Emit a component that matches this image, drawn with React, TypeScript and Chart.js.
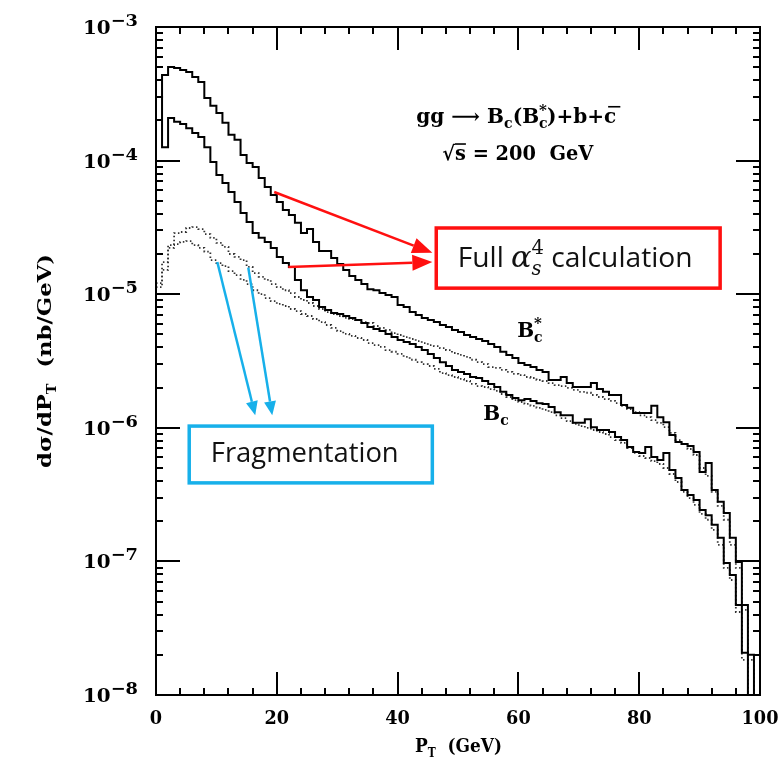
import { useEffect, useRef } from 'react';
import { Chart, registerables } from 'chart.js';

Chart.register(...registerables);

// ---- data: dσ/dP_T (nb/GeV) in 1 GeV P_T bins, bin i covers [i, i+1) GeV ----
const PT_START = 0;
const BIN_WIDTH = 1;

// full alpha_s^4 calculation, B_c*
const bcStarFull = [
  2.99e-4, 4.37e-4, 5.02e-4, 4.93e-4, 4.77e-4, 4.61e-4, 4.22e-4, 3.88e-4, 2.94e-4, 2.57e-4,
  2.27e-4, 1.92e-4, 1.56e-4, 1.43e-4, 1.10e-4, 9.60e-5, 8.96e-5, 7.41e-5, 6.34e-5, 5.53e-5,
  4.90e-5, 4.27e-5, 3.92e-5, 3.42e-5, 2.87e-5, 3.07e-5, 2.46e-5, 2.11e-5, 2.11e-5, 1.87e-5,
  1.68e-5, 1.52e-5, 1.37e-5, 1.28e-5, 1.19e-5, 1.09e-5, 1.07e-5, 1.02e-5, 9.86e-6, 9.53e-6,
  8.30e-6, 8.02e-6, 7.35e-6, 6.99e-6, 6.64e-6, 6.41e-6, 6.19e-6, 5.88e-6, 5.68e-6, 5.40e-6,
  5.21e-6, 4.95e-6, 4.78e-6, 4.62e-6, 4.46e-6, 4.24e-6, 4.03e-6, 3.71e-6, 3.51e-6, 3.33e-6,
  3.05e-6, 2.95e-6, 2.85e-6, 2.71e-6, 2.62e-6, 2.28e-6, 2.28e-6, 2.40e-6, 2.16e-6, 2.02e-6,
  2.02e-6, 2.02e-6, 2.16e-6, 1.95e-6, 1.86e-6, 1.76e-6, 1.76e-6, 1.48e-6, 1.41e-6, 1.29e-6,
  1.29e-6, 1.29e-6, 1.46e-6, 1.20e-6, 1.10e-6, 8.83e-7, 7.83e-7, 7.56e-7, 7.31e-7, 6.59e-7,
  4.67e-7, 5.45e-7, 3.43e-7, 2.79e-7, 2.30e-7, 1.50e-7, 9.90e-8, 4.71e-8, 2.00e-8, 0,
];

// full alpha_s^4 calculation, B_c
const bcFull = [
  2.99e-4, 1.26e-4, 2.08e-4, 1.95e-4, 1.88e-4, 1.75e-4, 1.61e-4, 1.50e-4, 1.26e-4, 9.76e-5,
  7.80e-5, 6.80e-5, 5.82e-5, 4.90e-5, 4.05e-5, 3.47e-5, 2.87e-5, 2.64e-5, 2.46e-5, 2.22e-5,
  1.90e-5, 1.71e-5, 1.60e-5, 1.28e-5, 1.07e-5, 9.53e-6, 9.05e-6, 8.02e-6, 7.62e-6, 7.23e-6,
  7.11e-6, 6.87e-6, 6.64e-6, 6.41e-6, 6.09e-6, 5.68e-6, 5.49e-6, 5.30e-6, 5.04e-6, 4.78e-6,
  4.54e-6, 4.38e-6, 4.24e-6, 4.03e-6, 3.82e-6, 3.57e-6, 3.33e-6, 3.10e-6, 2.90e-6, 2.71e-6,
  2.62e-6, 2.53e-6, 2.40e-6, 2.36e-6, 2.24e-6, 2.13e-6, 2.02e-6, 1.86e-6, 1.76e-6, 1.67e-6,
  1.61e-6, 1.64e-6, 1.59e-6, 1.53e-6, 1.51e-6, 1.43e-6, 1.31e-6, 1.24e-6, 1.24e-6, 1.09e-6,
  1.09e-6, 1.16e-6, 1.01e-6, 9.63e-7, 9.63e-7, 9.30e-7, 8.53e-7, 8.10e-7, 7.18e-7, 6.59e-7,
  6.48e-7, 7.18e-7, 6.04e-7, 5.74e-7, 6.48e-7, 4.83e-7, 4.21e-7, 3.43e-7, 3.14e-7, 2.88e-7,
  2.42e-7, 2.22e-7, 1.88e-7, 1.50e-7, 9.73e-8, 7.91e-8, 4.71e-8, 2.07e-8, 0, 0,
];

// fragmentation approximation, B_c*
const bcStarFrag = [
  1.13e-5, 1.52e-5, 2.33e-5, 2.87e-5, 2.92e-5, 3.13e-5, 3.18e-5, 3.07e-5, 2.82e-5, 2.64e-5,
  2.42e-5, 2.26e-5, 2.00e-5, 1.90e-5, 1.80e-5, 1.60e-5, 1.44e-5, 1.35e-5, 1.28e-5, 1.19e-5,
  1.13e-5, 1.07e-5, 1.02e-5, 9.53e-6, 9.05e-6, 8.59e-6, 8.16e-6, 7.75e-6, 7.35e-6, 7.11e-6,
  6.87e-6, 6.64e-6, 6.52e-6, 6.41e-6, 6.19e-6, 6.09e-6, 5.78e-6, 5.59e-6, 5.40e-6, 5.12e-6,
  4.95e-6, 4.78e-6, 4.62e-6, 4.46e-6, 4.31e-6, 4.16e-6, 4.09e-6, 3.95e-6, 3.82e-6, 3.63e-6,
  3.51e-6, 3.40e-6, 3.23e-6, 3.10e-6, 3.00e-6, 2.85e-6, 2.81e-6, 2.71e-6, 2.62e-6, 2.53e-6,
  2.48e-6, 2.40e-6, 2.36e-6, 2.28e-6, 2.24e-6, 2.16e-6, 2.09e-6, 2.05e-6, 1.99e-6, 1.92e-6,
  1.86e-6, 1.83e-6, 1.76e-6, 1.70e-6, 1.64e-6, 1.59e-6, 1.53e-6, 1.46e-6, 1.38e-6, 1.31e-6,
  1.24e-6, 1.20e-6, 1.14e-6, 1.09e-6, 1.01e-6, 9.15e-7, 8.10e-7, 7.56e-7, 6.94e-7, 6.26e-7,
  5.00e-7, 4.36e-7, 3.31e-7, 2.60e-7, 2.05e-7, 1.33e-7, 8.93e-8, 4.33e-8, 1.83e-8, 0,
];

// fragmentation approximation, B_c
const bcFrag = [
  1.21e-5, 1.74e-5, 2.22e-5, 2.37e-5, 2.46e-5, 2.50e-5, 2.33e-5, 2.22e-5, 2.08e-5, 1.80e-5,
  1.71e-5, 1.62e-5, 1.49e-5, 1.39e-5, 1.28e-5, 1.19e-5, 1.07e-5, 1.00e-5, 9.36e-6, 8.89e-6,
  8.45e-6, 8.16e-6, 7.75e-6, 7.48e-6, 7.11e-6, 6.87e-6, 6.52e-6, 6.19e-6, 5.88e-6, 5.59e-6,
  5.30e-6, 5.04e-6, 4.87e-6, 4.70e-6, 4.54e-6, 4.31e-6, 4.16e-6, 4.03e-6, 3.82e-6, 3.71e-6,
  3.57e-6, 3.40e-6, 3.23e-6, 3.10e-6, 3.00e-6, 2.90e-6, 2.76e-6, 2.57e-6, 2.48e-6, 2.40e-6,
  2.32e-6, 2.24e-6, 2.13e-6, 2.05e-6, 2.02e-6, 1.95e-6, 1.89e-6, 1.79e-6, 1.70e-6, 1.61e-6,
  1.56e-6, 1.51e-6, 1.46e-6, 1.41e-6, 1.36e-6, 1.31e-6, 1.24e-6, 1.18e-6, 1.12e-6, 1.07e-6,
  1.03e-6, 9.97e-7, 9.63e-7, 9.30e-7, 8.99e-7, 8.53e-7, 8.10e-7, 7.70e-7, 7.06e-7, 6.48e-7,
  6.15e-7, 5.94e-7, 5.64e-7, 5.36e-7, 5.00e-7, 4.51e-7, 3.93e-7, 3.31e-7, 2.98e-7, 2.65e-7,
  2.27e-7, 2.05e-7, 1.72e-7, 1.33e-7, 8.93e-8, 7.26e-8, 4.18e-8, 1.83e-8, 0, 0,
];

// ---- axes ----
const X_MIN = 0;
const X_MAX = 100;
const X_MINOR_STEP = 4;
const X_MAJOR_STEP = 20;
const xTickLabels = [0, 20, 40, 60, 80, 100];
const Y_MIN = 1e-8;
const Y_MAX = 1e-3;
const yTickExponents = [-3, -4, -5, -6, -7, -8];

// ---- styling ----
const SERIF = '"DejaVu Serif", serif';
const SANS = '"Open Sans", "Noto Sans", sans-serif';
const RED = '#ff1010';
const BLUE = '#17b0ea';

type Run = {
  t: string;
  size: number;
  dy?: number;
  weight?: string;
  fam?: string;
  adv?: boolean;
  bar?: number; // overline height above baseline, in em
  barShift?: number;
};

function setFont(ctx: CanvasRenderingContext2D, r: Run, k: number) {
  ctx.font = `${r.weight ?? 'bold'} ${r.size * k}px ${r.fam ?? SERIF}`;
}

function runsWidth(ctx: CanvasRenderingContext2D, runs: Run[], k = 1) {
  let w = 0;
  for (const r of runs) {
    setFont(ctx, r, k);
    if (r.adv !== false) w += ctx.measureText(r.t).width;
  }
  return w;
}

function drawRuns(ctx: CanvasRenderingContext2D, runs: Run[], x: number, y: number, k = 1) {
  ctx.textAlign = 'left';
  ctx.textBaseline = 'alphabetic';
  let cx = x;
  for (const r of runs) {
    setFont(ctx, r, k);
    const by = y + (r.dy ?? 0) * k;
    ctx.fillText(r.t, cx, by);
    const w = ctx.measureText(r.t).width;
    if (r.bar) {
      const s = (r.barShift ?? 0) * k;
      const yy = by - r.bar * r.size * k;
      ctx.save();
      ctx.lineWidth = Math.max(1.2, r.size * k * 0.08);
      ctx.beginPath();
      ctx.moveTo(cx + s, yy);
      ctx.lineTo(cx + w + s, yy);
      ctx.stroke();
      ctx.restore();
    }
    if (r.adv !== false) cx += w;
  }
}

// draw text at natural height, squeezed horizontally to a given width
function drawRunsToWidth(ctx: CanvasRenderingContext2D, runs: Run[], x: number, y: number, width: number) {
  const sx = width / runsWidth(ctx, runs);
  ctx.save();
  ctx.translate(x, y);
  ctx.scale(sx, 1);
  drawRuns(ctx, runs, 0, 0);
  ctx.restore();
}

function drawArrow(
  ctx: CanvasRenderingContext2D,
  x0: number, y0: number, x1: number, y1: number,
  color: string, width: number, headLen: number, headHalf: number,
) {
  const ang = Math.atan2(y1 - y0, x1 - x0);
  const bx = x1 - headLen * Math.cos(ang);
  const by = y1 - headLen * Math.sin(ang);
  ctx.save();
  ctx.strokeStyle = color;
  ctx.fillStyle = color;
  ctx.lineWidth = width;
  ctx.beginPath();
  ctx.moveTo(x0, y0);
  ctx.lineTo(bx, by);
  ctx.stroke();
  ctx.beginPath();
  ctx.moveTo(x1, y1);
  ctx.lineTo(bx + headHalf * Math.sin(ang), by - headHalf * Math.cos(ang));
  ctx.lineTo(bx - headHalf * Math.sin(ang), by + headHalf * Math.cos(ang));
  ctx.closePath();
  ctx.fill();
  ctx.restore();
}

// annotation anchors, in data coordinates (GeV, nb/GeV)
const processText = { x: 43.1, y: 1.92e-4, width: 200 };
const energyText = { x: 47.4, y: 1.01e-4, width: 151 };
const bcStarText = { x: 59.8, y: 4.78e-6 };
const bcText = { x: 54.2, y: 1.14e-6 };
const fullBox = { x0: 46.4, x1: 93.4, yTop: 3.13e-5, yBot: 1.11e-5, textWidth: 235 };
const fragBox = { x0: 5.5, x1: 45.75, yTop: 1.03e-6, yBot: 3.87e-7, textWidth: 188 };
const fullArrows = [
  { from: [19.57, 5.82e-5], to: [45.75, 2.04e-5] },
  { from: [21.9, 1.6e-5], to: [45.75, 1.74e-5] },
];
const fragArrows = [
  { from: [10.15, 1.74e-5], to: [16.43, 1.24e-6] },
  { from: [15.28, 1.58e-5], to: [19.25, 1.24e-6] },
];

const decorPlugin = {
  id: 'decor',
  afterDraw(chart: any) {
    const { ctx, chartArea: a } = chart;
    const xs = chart.scales.x;
    const ys = chart.scales.y;
    const X = (v: number) => xs.getPixelForValue(v);
    const Y = (v: number) => ys.getPixelForValue(v);

    ctx.save();
    ctx.strokeStyle = '#000';
    ctx.fillStyle = '#000';

    // frame
    ctx.lineWidth = 2;
    ctx.strokeRect(a.left, a.top, a.right - a.left, a.bottom - a.top);

    // ticks, all pointing inward
    ctx.beginPath();
    for (let v = X_MIN; v <= X_MAX; v += X_MINOR_STEP) {
      const len = v % X_MAJOR_STEP === 0 ? 23 : 7;
      const px = Math.round(X(v));
      ctx.moveTo(px, a.bottom);
      ctx.lineTo(px, a.bottom - len);
      ctx.moveTo(px, a.top);
      ctx.lineTo(px, a.top + len);
    }
    for (let e = -8; e <= -3; e++) {
      for (let m = 1; m <= 9; m++) {
        if (e === -3 && m > 1) break;
        const py = Math.round(Y(m * Math.pow(10, e)));
        const len = m === 1 ? 24 : 7;
        ctx.moveTo(a.left, py);
        ctx.lineTo(a.left + len, py);
        ctx.moveTo(a.right, py);
        ctx.lineTo(a.right - len, py);
      }
    }
    ctx.stroke();

    // y tick labels 10^-n
    for (const e of yTickExponents) {
      const py = Y(Math.pow(10, e));
      const runs: Run[] = [
        { t: '10', size: 19 },
        { t: '\u2212' + String(-e), size: 17, dy: -8 },
      ];
      drawRunsToWidth(ctx, runs, a.left - 73, py + 7, 55);
    }

    // x tick labels
    for (const v of xTickLabels) {
      const runs: Run[] = [{ t: String(v), size: 19 }];
      const w = String(v).length * 12.3;
      drawRunsToWidth(ctx, runs, X(v) - w / 2, a.bottom + 29, w);
    }

    // x axis title
    {
      const runs: Run[] = [
        { t: 'P', size: 19 },
        { t: 'T', size: 12, dy: 5 },
        { t: '  (GeV)', size: 19 },
      ];
      drawRunsToWidth(ctx, runs, 415, a.bottom + 57, 87);
    }

    // y axis title
    {
      const runs: Run[] = [
        { t: 'd\u03c3/dP', size: 19 },
        { t: 'T', size: 12, dy: 5 },
        { t: '  (nb/GeV)', size: 19 },
      ];
      const w = 214;
      ctx.save();
      ctx.translate(51, (a.top + a.bottom) / 2);
      ctx.rotate(-Math.PI / 2);
      drawRunsToWidth(ctx, runs, -w / 2, 0, w);
      ctx.restore();
    }

    // process and energy
    drawRunsToWidth(ctx, [
      { t: 'gg ', size: 20 },
      { t: '\u27f6', size: 20 },
      { t: ' B', size: 20 },
      { t: 'c', size: 14, dy: 5 },
      { t: '(B', size: 20 },
      { t: 'c', size: 14, dy: 5, adv: false },
      { t: '*', size: 15, dy: -8 },
      { t: ')+b+', size: 20 },
      { t: 'c', size: 20, bar: 0.8, barShift: 4 },
    ], X(processText.x), Y(processText.y), processText.width);
    drawRunsToWidth(ctx, [
      { t: '\u221a', size: 20 },
      { t: 's', size: 20, bar: 0.8 },
      { t: ' = 200  GeV', size: 20 },
    ], X(energyText.x), Y(energyText.y), energyText.width);

    // curve labels
    drawRuns(ctx, [
      { t: 'B', size: 20 },
      { t: 'c', size: 14, dy: 5, adv: false },
      { t: '*', size: 15, dy: -9 },
    ], X(bcStarText.x), Y(bcStarText.y));
    drawRuns(ctx, [
      { t: 'B', size: 20 },
      { t: 'c', size: 14, dy: 5 },
    ], X(bcText.x), Y(bcText.y));

    // "Full alpha_s^4 calculation" callout
    {
      const x0 = X(fullBox.x0), x1 = X(fullBox.x1);
      const y0 = Y(fullBox.yTop), y1 = Y(fullBox.yBot);
      ctx.strokeStyle = RED;
      ctx.lineWidth = 3.5;
      ctx.strokeRect(x0, y0, x1 - x0, y1 - y0);
      for (const ar of fullArrows) {
        drawArrow(ctx, X(ar.from[0]), Y(ar.from[1]), X(ar.to[0]), Y(ar.to[1]), RED, 2.5, 20, 8);
      }
      const runs: Run[] = [
        { t: 'Full ', size: 26, weight: 'normal', fam: SANS },
        { t: '\u03b1', size: 28, weight: 'italic', fam: SERIF },
        { t: 's', size: 18, dy: 7, weight: 'italic', adv: false },
        { t: '4', size: 18, dy: -12, weight: 'normal' },
        { t: ' calculation', size: 26, weight: 'normal', fam: SANS },
      ];
      const k = fullBox.textWidth / runsWidth(ctx, runs);
      ctx.fillStyle = '#111';
      drawRuns(ctx, runs, (x0 + x1) / 2 - fullBox.textWidth / 2 - 3, (y0 + y1) / 2 + 9, k);
    }

    // "Fragmentation" callout
    {
      const x0 = X(fragBox.x0), x1 = X(fragBox.x1);
      const y0 = Y(fragBox.yTop), y1 = Y(fragBox.yBot);
      ctx.strokeStyle = BLUE;
      ctx.lineWidth = 3.5;
      ctx.strokeRect(x0, y0, x1 - x0, y1 - y0);
      for (const ar of fragArrows) {
        drawArrow(ctx, X(ar.from[0]), Y(ar.from[1]), X(ar.to[0]), Y(ar.to[1]), BLUE, 2.5, 14, 6);
      }
      const runs: Run[] = [{ t: 'Fragmentation', size: 26, weight: 'normal', fam: SANS }];
      const k = fragBox.textWidth / runsWidth(ctx, runs);
      ctx.fillStyle = '#111';
      drawRuns(ctx, runs, (x0 + x1) / 2 - fragBox.textWidth / 2 - 6, (y0 + y1) / 2 + 8, k);
    }

    ctx.restore();
  },
};

function histogram(values: number[]) {
  // left bin edges with a closing point at the last upper edge; empty bins sit on the axis floor
  const pts = values.map((v, i) => ({ x: PT_START + i * BIN_WIDTH, y: v > 0 ? v : Y_MIN }));
  pts.push({ x: PT_START + values.length * BIN_WIDTH, y: pts[pts.length - 1].y });
  return pts;
}

export default function App() {
  const canvasRef = useRef<HTMLCanvasElement>(null);

  useEffect(() => {
    const canvas = canvasRef.current;
    if (!canvas) return;
    // 'before' keeps each bin's level across [x_i, x_i+1) and steps at the upper edge
    const solid = { borderColor: '#000', borderWidth: 2, stepped: 'before' as const, pointRadius: 0, fill: false };
    const dotted = {
      borderColor: '#333',
      borderWidth: 1.8,
      borderDash: [1.5, 2.5],
      stepped: 'before' as const,
      pointRadius: 0,
      fill: false,
    };
    const chart = new Chart(canvas, {
      type: 'line',
      data: {
        datasets: [
          { label: 'B_c* full', data: histogram(bcStarFull), ...solid },
          { label: 'B_c full', data: histogram(bcFull), ...solid },
          { label: 'B_c* fragmentation', data: histogram(bcStarFrag), ...dotted },
          { label: 'B_c fragmentation', data: histogram(bcFrag), ...dotted },
        ],
      },
      options: {
        responsive: false,
        devicePixelRatio: 1,
        animation: false,
        layout: { padding: { left: 156, right: 21, top: 27, bottom: 63 } },
        scales: {
          x: { type: 'linear', min: X_MIN, max: X_MAX, display: false },
          y: { type: 'logarithmic', min: Y_MIN, max: Y_MAX, display: false },
        },
        plugins: { legend: { display: false }, tooltip: { enabled: false } },
        elements: { point: { radius: 0 } },
      },
      plugins: [decorPlugin],
    });
    return () => chart.destroy();
  }, []);

  return (
    <div style={{ position: 'absolute', left: 0, top: 0, width: 781, height: 758, background: '#fff' }}>
      <canvas ref={canvasRef} width={781} height={758} style={{ display: 'block' }} />
    </div>
  );
}
